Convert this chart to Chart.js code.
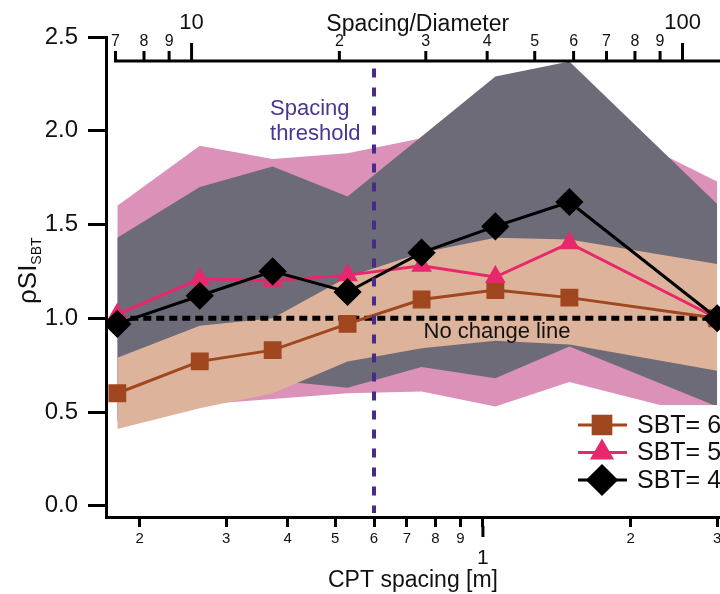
<!DOCTYPE html>
<html>
<head>
<meta charset="utf-8">
<script src="https://cdn.jsdelivr.net/npm/chart.js@4.4.1/dist/chart.umd.min.js"></script>
<style>
  html, body { margin: 0; padding: 0; background: #fff; }
</style>
</head>
<body>
<canvas id="myChart"></canvas>
<script>
// CPT spacing [m] of each point
const spacing = [0.18, 0.265, 0.373, 0.53, 0.75, 1.06, 1.5, 3.0];

// mean values
const sbt6 = [0.60, 0.77, 0.83, 0.97, 1.10, 1.15, 1.11, 1.00];
const sbt5 = [1.02, 1.21, 1.20, 1.23, 1.28, 1.22, 1.40, 1.00];
const sbt4 = [0.97, 1.12, 1.25, 1.14, 1.35, 1.49, 1.62, 1.00];

// ranges (shaded bands)
const sbt6Low  = [0.41, 0.52, 0.60, 0.77, 0.84, 0.88, 0.86, 0.72];
const sbt6High = [0.79, 0.96, 1.00, 1.22, 1.35, 1.43, 1.42, 1.29];
const sbt5Low  = [0.47, 0.54, 0.57, 0.60, 0.61, 0.53, 0.66, 0.46];
const sbt5High = [1.60, 1.92, 1.85, 1.88, 1.96, 2.02, 2.12, 1.73];
const sbt4Low  = [0.45, 0.55, 0.67, 0.63, 0.74, 0.68, 0.85, 0.53];
const sbt4High = [1.43, 1.70, 1.81, 1.65, 1.97, 2.29, 2.37, 1.61];

const spacingTicks  = [0.2, 0.3, 0.4, 0.5, 0.6, 0.7, 0.8, 0.9, 1, 2, 3];
const spacingLabels = ['2', '3', '4', '5', '6', '7', '8', '9', ['', '1'], '2', '3'];
const ratioTicks  = [7, 8, 9, 10, 20, 30, 40, 50, 60, 70, 80, 90, 100];
const ratioLabels = ['7', '8', '9', '10', '2', '3', '4', '5', '6', '7', '8', '9', '100'];
const yTicks = [0, 0.5, 1.0, 1.5, 2.0, 2.5];

const thresholdSpacing = 0.6;
const noChange = 1.0;
const coneDiameter = 0.0255; // spacing / diameter for the top axis
const topAxisAt = 2.37;

const FONT = "'Liberation Sans', Arial, sans-serif";
const pts = arr => arr.map((v, i) => ({ x: spacing[i], y: v }));

const band = (data, color, order, fill) => ({
    data: pts(data),
    borderWidth: 0,
    borderColor: 'rgba(0,0,0,0)',
    backgroundColor: color,
    pointRadius: 0,
    fill: fill,
    order: order
});

const datasets = [
    {
        label: 'SBT= 4',
        data: pts(sbt4),
        borderColor: '#000000',
        backgroundColor: '#000000',
        borderWidth: 3,
        pointStyle: 'rectRot',
        pointRadius: 12,
        order: 0
    },
    {
        label: 'SBT= 5',
        data: pts(sbt5),
        borderColor: '#e8286c',
        backgroundColor: '#e8286c',
        borderWidth: 3,
        pointStyle: 'triangle',
        pointRadius: 9,
        order: 1
    },
    {
        label: 'SBT= 6',
        data: pts(sbt6),
        borderColor: '#a0471f',
        backgroundColor: '#a0471f',
        borderWidth: 3,
        pointStyle: 'rect',
        pointRadius: 10.5,
        order: 2
    },
    {
        label: 'No change',
        data: [{ x: spacing[0], y: noChange }, { x: spacing[spacing.length - 1], y: noChange }],
        borderColor: '#000000',
        borderWidth: 5,
        borderDash: [8, 5],
        pointRadius: 0,
        order: 3
    },
    band(sbt6Low, '#ddb49b', 4, false),
    band(sbt6High, '#ddb49b', 4, '-1'),
    band(sbt4Low, '#6e6b78', 5, false),
    band(sbt4High, '#6e6b78', 5, '-1'),
    band(sbt5Low, '#dc91b9', 6, false),
    band(sbt5High, '#dc91b9', 6, '-1')
];

const legendItems = [2, 1, 0];

const overlay = {
    id: 'overlay',
    afterDraw(chart) {
        const { ctx, chartArea } = chart;
        const x = chart.scales.x;
        const y = chart.scales.y;
        ctx.save();

        // spacing threshold
        const tx = x.getPixelForValue(thresholdSpacing);
        ctx.strokeStyle = '#4a2a88';
        ctx.lineWidth = 4;
        ctx.setLineDash([9, 10]);
        ctx.beginPath();
        ctx.moveTo(tx, y.getPixelForValue(topAxisAt) + 7);
        ctx.lineTo(tx, chartArea.bottom - 4);
        ctx.stroke();
        ctx.setLineDash([]);

        ctx.fillStyle = '#4b3592';
        ctx.font = '22px ' + FONT;
        ctx.textAlign = 'left';
        ctx.textBaseline = 'alphabetic';
        ctx.fillText('Spacing', tx - 104, 115);
        ctx.fillText('threshold', tx - 104, 140);

        // no change text
        ctx.fillStyle = '#111';
        ctx.fillText('No change line', x.getPixelForValue(spacing[4]) + 2, 338);

        // legend
        ctx.fillStyle = '#ffffff';
        ctx.fillRect(570, 405, 150, 91);
        legendItems.forEach((di, row) => {
            const ds = chart.data.datasets[di];
            const ly = 425 + row * 27.5;
            ctx.strokeStyle = ds.borderColor;
            ctx.lineWidth = 3;
            ctx.beginPath();
            ctx.moveTo(578, ly);
            ctx.lineTo(627, ly);
            ctx.stroke();
            ctx.fillStyle = ds.backgroundColor;
            Chart.helpers.drawPoint(ctx, {
                pointStyle: ds.pointStyle,
                radius: ds.pointRadius + 2,
                rotation: 0,
                borderWidth: 1
            }, 602, ly);
            ctx.fillStyle = '#111';
            ctx.font = '25px ' + FONT;
            ctx.textBaseline = 'middle';
            ctx.fillText(ds.label, 637, ly + 1);
        });

        // top axis: spacing / diameter
        const yTop = Math.round(y.getPixelForValue(topAxisAt));
        ctx.strokeStyle = '#000';
        ctx.lineWidth = 3;
        const xStart = x.getPixelForValue(ratioTicks[0] * coneDiameter);
        ctx.beginPath();
        ctx.moveTo(xStart - 1.5, yTop);
        ctx.lineTo(chartArea.right, yTop);
        ctx.stroke();
        ratioTicks.forEach((r, i) => {
            const px = x.getPixelForValue(r * coneDiameter);
            const major = r === 10 || r === 100;
            ctx.beginPath();
            ctx.moveTo(px, yTop);
            ctx.lineTo(px, yTop - (major ? 18 : 10));
            ctx.stroke();
            ctx.fillStyle = '#111';
            ctx.textAlign = 'center';
            ctx.textBaseline = 'alphabetic';
            ctx.font = (major ? '22px ' : '16px ') + FONT;
            ctx.fillText(ratioLabels[i], px, major ? yTop - 32 : yTop - 15);
        });
        ctx.font = '23px ' + FONT;
        ctx.fillText('Spacing/Diameter', (xStart + chartArea.right) / 2, 31);

        // longer tick for the decade on the bottom axis
        const p1 = x.getPixelForValue(1);
        ctx.beginPath();
        ctx.moveTo(p1, chartArea.bottom + 9);
        ctx.lineTo(p1, chartArea.bottom + 20);
        ctx.stroke();

        // y title with subscript
        ctx.translate(36, 304);
        ctx.rotate(-Math.PI / 2);
        ctx.textAlign = 'left';
        ctx.font = '26px ' + FONT;
        ctx.fillText('\u03C1SI', 0, 0);
        const w = ctx.measureText('\u03C1SI').width;
        ctx.font = '14px ' + FONT;
        ctx.fillText('SBT', w, 5);

        ctx.restore();
    }
};

const config = {
    type: 'line',
    data: { datasets: datasets },
    options: {
        responsive: false,
        animation: false,
        events: [],
        layout: { autoPadding: false, padding: { top: 37, left: 0, right: 0, bottom: 0 } },
        elements: { line: { tension: 0 } },
        plugins: {
            legend: { display: false },
            tooltip: { enabled: false },
            filler: { propagate: false }
        },
        scales: {
            x: {
                type: 'logarithmic',
                position: 'bottom',
                min: 0.1707,
                max: 3.04,
                afterBuildTicks: s => { s.ticks = spacingTicks.map(v => ({ value: v })); },
                afterFit: s => { s.height = 77; s.paddingLeft = 0; s.paddingRight = 0; },
                border: { display: true, color: '#000', width: 3 },
                grid: { drawOnChartArea: false, drawTicks: true, tickLength: 10, tickWidth: 3, tickColor: '#000' },
                ticks: {
                    autoSkip: false,
                    maxRotation: 0,
                    padding: 3,
                    color: '#111',
                    font: ctx => (ctx.tick && ctx.tick.value === 1)
                        ? { family: FONT, size: 21, lineHeight: 0.89 }
                        : { family: FONT, size: 15 },
                    callback: (v, i) => spacingLabels[i]
                },
                title: {
                    display: true,
                    text: 'CPT spacing [m]',
                    color: '#111',
                    font: { family: FONT, size: 23 },
                    padding: { top: 1, bottom: 0 }
                }
            },
            y: {
                type: 'linear',
                min: -0.06,
                max: 2.5,
                afterBuildTicks: s => { s.ticks = yTicks.map(v => ({ value: v })); },
                afterFit: s => { s.width = 106; },
                border: { display: true, color: '#000', width: 3 },
                grid: { drawOnChartArea: false, drawTicks: true, tickLength: 18, tickWidth: 3, tickColor: '#000' },
                ticks: {
                    padding: 10,
                    color: '#111',
                    font: { family: FONT, size: 24 },
                    callback: v => v.toFixed(1)
                }
            }
        }
    },
    plugins: [overlay]
};

const canvas = document.getElementById('myChart');
canvas.width = 720;
canvas.height = 594;
const myChart = new Chart(canvas, config);
</script>
</body>
</html>
